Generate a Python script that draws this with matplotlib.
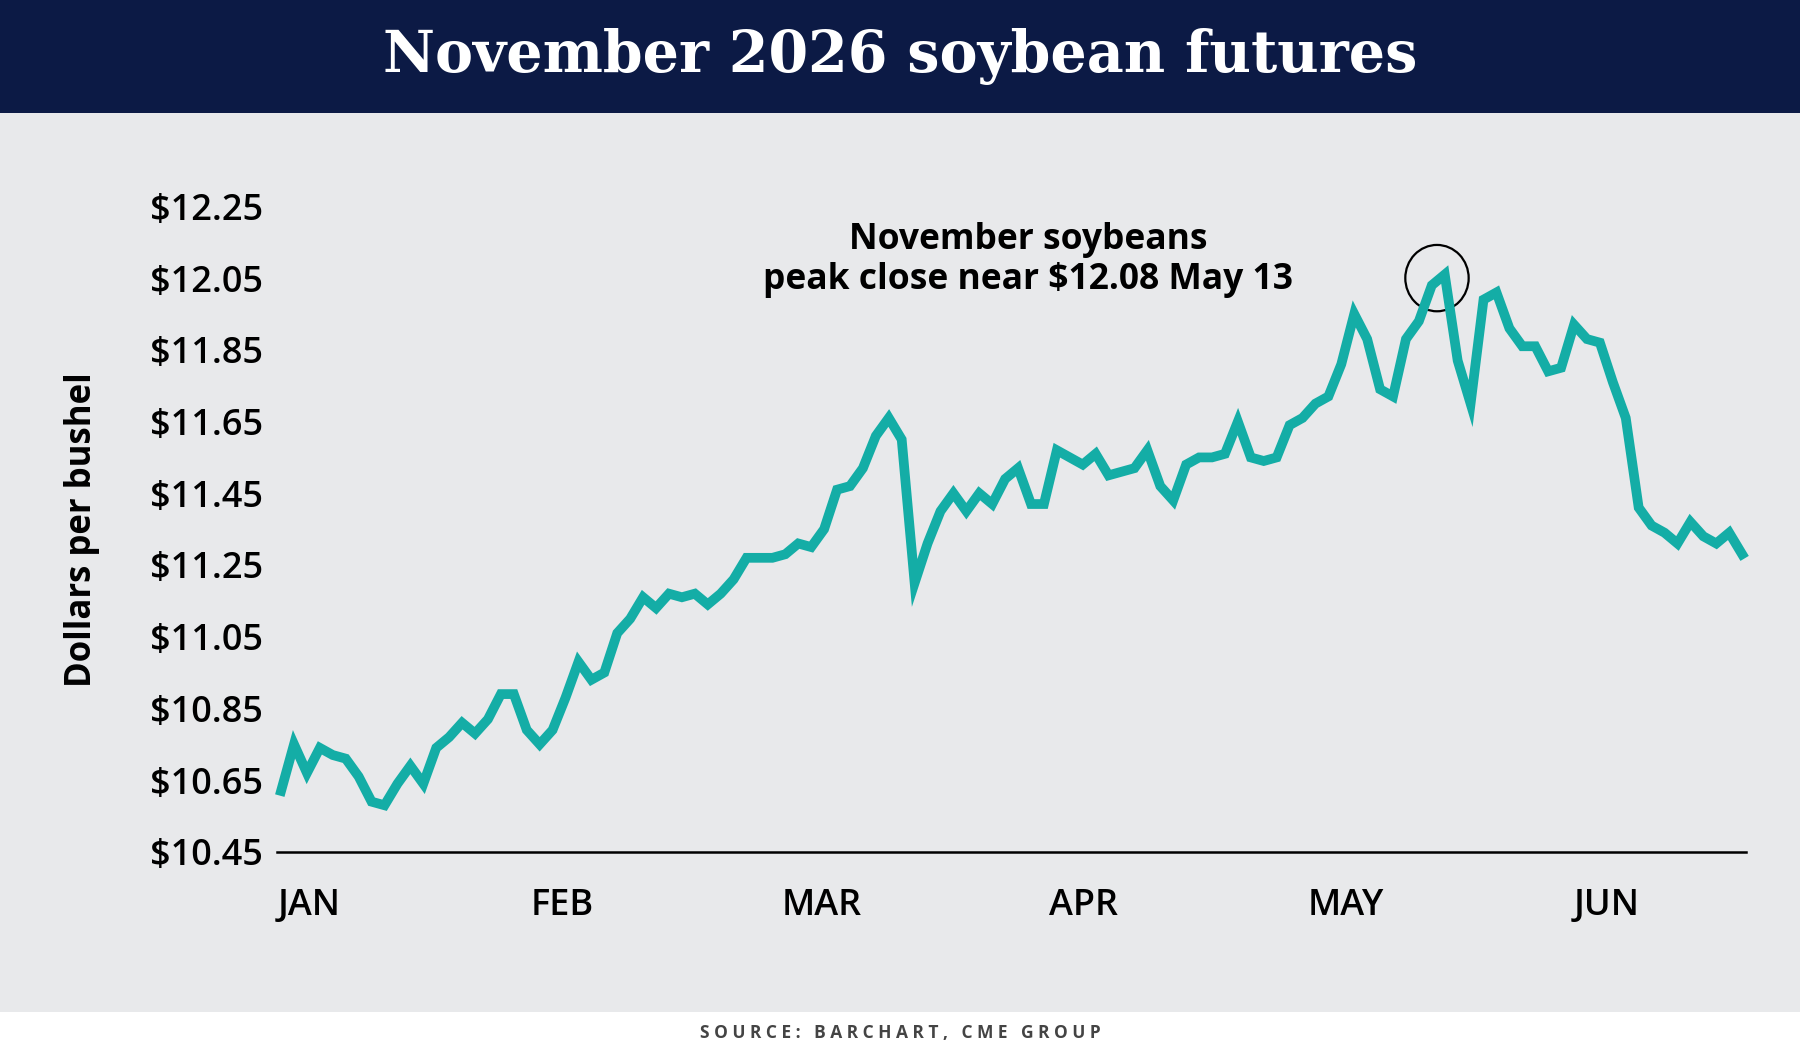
import matplotlib
matplotlib.use("Agg")
import matplotlib.pyplot as plt
from matplotlib.patches import Rectangle, Ellipse

plt.rcParams["font.family"] = ["Open Sans", "DejaVu Sans"]

prices = [10.62, 10.75, 10.67, 10.74, 10.72, 10.71, 10.66, 10.59, 10.58, 10.64,
          10.69, 10.64, 10.74, 10.77, 10.81, 10.78, 10.82, 10.89, 10.89, 10.79,
          10.75, 10.79, 10.88, 10.98, 10.93, 10.95, 11.06, 11.10, 11.16, 11.13,
          11.17, 11.16, 11.17, 11.14, 11.17, 11.21, 11.27, 11.27, 11.27, 11.28,
          11.31, 11.30, 11.35, 11.46, 11.47, 11.52, 11.61, 11.66, 11.60, 11.20,
          11.31, 11.40, 11.45, 11.40, 11.45, 11.42, 11.49, 11.52, 11.42, 11.42,
          11.57, 11.55, 11.53, 11.56, 11.50, 11.51, 11.52, 11.57, 11.47, 11.43,
          11.53, 11.55, 11.55, 11.56, 11.65, 11.55, 11.54, 11.55, 11.64, 11.66,
          11.70, 11.72, 11.81, 11.95, 11.88, 11.74, 11.72, 11.88, 11.93, 12.03,
          12.06, 11.82, 11.70, 11.99, 12.01, 11.91, 11.86, 11.86, 11.79, 11.80,
          11.92, 11.88, 11.87, 11.76, 11.66, 11.41, 11.36, 11.34, 11.31, 11.37,
          11.33, 11.31, 11.34, 11.28]
month_labels = ["JAN", "FEB", "MAR", "APR", "MAY", "JUN"]
month_pos = [-0.3, 19.3, 38.7, 59.4, 79.4, 100.0]
ytick_vals = [10.45, 10.65, 10.85, 11.05, 11.25, 11.45, 11.65, 11.85, 12.05, 12.25]
peak_idx = 90

bg = "#E8E9EB"
teal = "#14ADA6"
navy = "#0C1A45"

fig = plt.figure(figsize=(18, 10.53), dpi=100)
fig.patch.set_facecolor("white")
fig.add_artist(Rectangle((0, 0.039), 1, 0.854, transform=fig.transFigure,
                         facecolor=bg, edgecolor="none", zorder=0))
fig.add_artist(Rectangle((0, 0.893), 1, 0.107, transform=fig.transFigure,
                         facecolor=navy, edgecolor="none", zorder=0))
fig.text(0.5, 0.946, "November 2026 soybean futures", ha="center", va="center",
         color="white", fontsize=41, fontweight="bold",
         family=["DejaVu Serif"])
fig.text(0.5, 0.019, "S O U R C E :   B A R C H A R T ,   C M E   G R O U P",
         ha="center", va="center", color="#444444", fontsize=12.5,
         fontweight="bold")

ax = fig.add_axes([0.154, 0.191, 0.816, 0.613])
ax.set_facecolor("none")
x = list(range(len(prices)))
ax.plot(x, prices, color=teal, lw=7, solid_joinstyle="miter", clip_on=False)
ax.set_ylim(10.45, 12.25)
ax.set_xlim(0, len(prices) - 1 + 0.3)
ax.set_yticks(ytick_vals)
ax.set_yticklabels([f"${v:.2f}" for v in ytick_vals], fontsize=26,
                   fontweight="semibold")
ax.set_xticks(month_pos)
ax.set_xticklabels(month_labels, fontsize=26, ha="left", fontweight="semibold")
ax.tick_params(length=0, pad=10)
ax.tick_params(axis="x", pad=26)
for s in ["top", "right", "left"]:
    ax.spines[s].set_visible(False)
ax.spines["bottom"].set_linewidth(1.8)
ax.set_ylabel("Dollars per bushel", fontsize=25, fontweight="bold", labelpad=36)

ax.add_patch(Ellipse((peak_idx - 0.6, prices[peak_idx] - 0.01), 4.9, 0.185,
                     fill=False, edgecolor="black", lw=1.6))
ax.text(57.8, 12.10, "November soybeans\npeak close near $12.08 May 13",
        ha="center", va="center", fontsize=25.5, fontweight="bold",
        linespacing=1.15)

fig.savefig("out.png", dpi=100, facecolor=fig.get_facecolor())
